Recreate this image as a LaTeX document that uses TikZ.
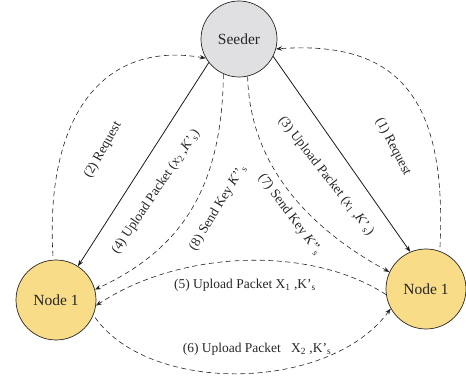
\documentclass[tikz,border=0pt]{standalone}
\usepackage{fontspec}
\setmainfont{Liberation Serif}
\usetikzlibrary{arrows.meta}
\definecolor{seedgray}{RGB}{224,224,226}
\definecolor{nodeyellow}{RGB}{248,220,135}
\begin{document}
\begin{tikzpicture}[x=1pt,y=-1pt,
  every node/.style={inner sep=0pt,text=black!85},
  peer/.style={circle,draw=black!85,line width=0.7pt,minimum size=80pt,fill=nodeyellow,font=\fontsize{15.5}{18}\selectfont},
  seed/.style={peer,minimum size=76pt,fill=seedgray},
  lbl/.style={font=\fontsize{13.5}{15}\selectfont},
  dsh/.style={draw=black!85,dash pattern=on 5pt off 3.5pt,line width=0.6pt},
  sol/.style={draw=black!90,line width=0.8pt},
  tip/.style={-{Stealth[length=6pt,width=4.5pt]}}
]
\useasboundingbox (0,0) rectangle (466,387);
\node[seed] (S) at (239,39) {Seeder};
\node[peer] (L) at (56,300) {Node 1};
\node[peer] (R) at (426,289) {Node 1};

% (1) Request
\draw[dsh,tip,shorten <=4pt] (R.70) .. controls (447,100) and (400,40) .. (S.345);
% (2) Request
\draw[dsh,tip,shorten <=4pt] (L.94) .. controls (45,120) and (100,40) .. (S.210);
% (3) and (4) upload
\draw[sol,tip] (S.333) -- (R.113);
\draw[sol,tip] (S.218) -- (L.57);
% (7) and (8) send key
\draw[dsh,tip] (S.283) .. controls (250,180) and (330,240) .. (R.155);
\draw[dsh,tip] (S.246) .. controls (222,190) and (180,250) .. (L.15);
% (5) and (6)
\draw[dsh,tip] (R.188) .. controls (310,245) and (180,250) .. (L.-8);
\draw[dsh,tip,shorten <=3pt] (L.-22) .. controls (150,395) and (330,392) .. (R.209);

\node[lbl,rotate=-62.7] (t1) at (393,147) {(1) Request};
\node[lbl,rotate=60.6] (t2) at (103,150) {(2) Request};
\node[lbl,rotate=-52] (t3) at (326,176) {(3) Upload Packet (\textit{x}\textsubscript{1} ,\textit{K}’\textsubscript{s})};
\node[lbl,rotate=56] (t4) at (156,192) {(4) Upload Packet (\textit{x}\textsubscript{2} ,\textit{K}’\textsubscript{s})};
\node[lbl,rotate=58.6] (t8) at (218,208) {(8) Send Key \textit{K}’’\textsubscript{s}};
\node[lbl,rotate=-53.4] (t7) at (290,215) {(7) Send Key \textit{K}’’\textsubscript{s}};
\node[lbl] (t5) at (245,285) {(5) Upload Packet X\textsubscript{1} ,K’\textsubscript{s}};
\node[lbl] (t6) at (257,349) {(6) Upload Packet \enspace X\textsubscript{2} ,K’\textsubscript{s}};
\end{tikzpicture}
\end{document}
